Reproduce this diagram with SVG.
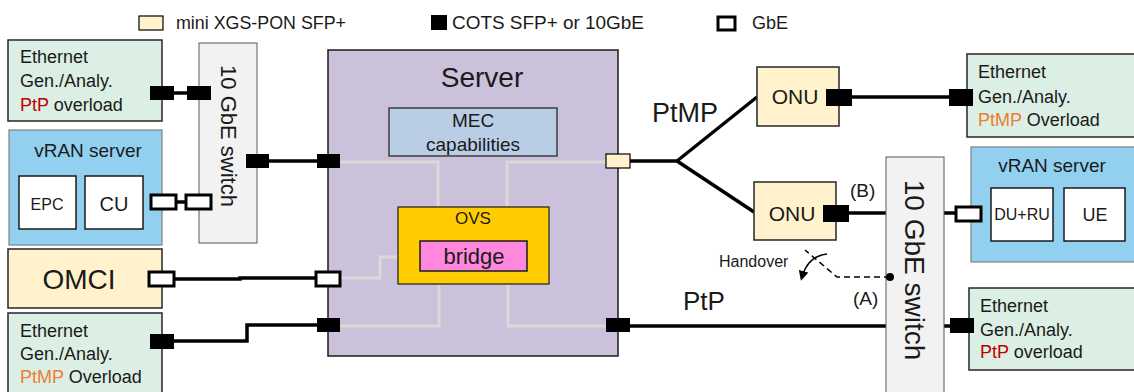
<svg xmlns="http://www.w3.org/2000/svg" width="1134" height="392" viewBox="0 0 1134 392">
<defs>
<style>
text{font-family:"Liberation Sans",Arial,sans-serif;fill:#1a1a1a}
.eth{fill:#dcefe4;stroke:#262626;stroke-width:1.5}
.vran{fill:#92d0f0;stroke:#808080;stroke-width:1.2}
.sw{fill:#f2f2f2;stroke:#595959;stroke-width:1}
.yel{fill:#fff2cc;stroke:#262626;stroke-width:1.5}
.wbox{fill:#ffffff;stroke:#1a1a1a;stroke-width:1.5}
.blk{fill:#000000}
.gbe{fill:#ffffff;stroke:#000000;stroke-width:3}
.pon{fill:#fff2cc;stroke:#000000;stroke-width:1.2}
.ln{fill:none;stroke:#000000;stroke-width:3.5}
.gl{fill:none;stroke:#d9d9d9;stroke-width:3}
.t18{font-size:18px}
.red{fill:#c00000}
.org{fill:#ed7d31}
</style>
<marker id="ah" markerWidth="10" markerHeight="10" refX="6" refY="5" orient="auto" markerUnits="userSpaceOnUse">
<path d="M0,0 L10,5 L0,10 Z" fill="#000"/>
</marker>
</defs>
<rect width="1134" height="392" fill="#ffffff"/>

<g id="legend">
<rect x="139" y="16" width="24" height="14" class="pon"/>
<text x="176" y="29" font-size="18" textLength="170" lengthAdjust="spacingAndGlyphs">mini XGS-PON SFP+</text>
<rect x="431" y="15" width="16" height="15" class="blk"/>
<text x="452" y="29" font-size="18" textLength="192" lengthAdjust="spacingAndGlyphs">COTS SFP+ or 10GbE</text>
<rect x="718" y="17" width="17" height="13" class="gbe" stroke-width="2.5"/>
<text x="752" y="29" font-size="18">GbE</text>
</g>

<g id="connectors">
<line x1="174" y1="93" x2="187" y2="93" class="ln"/>
<line x1="76" y1="203" x2="85" y2="203" class="ln"/>
<line x1="143" y1="202" x2="151" y2="202" class="ln"/>
<line x1="176" y1="202" x2="186" y2="202" class="ln"/>
<line x1="269" y1="161" x2="317" y2="161" class="ln"/>
<polyline points="174,279 240,279 240,278 316,278" class="ln"/>
<polyline points="174,341 247,341 247,325 317,325" class="ln"/>
<line x1="630" y1="161" x2="677" y2="161" class="ln"/>
<line x1="677" y1="161" x2="757" y2="97" class="ln"/>
<line x1="677" y1="161" x2="754" y2="212" class="ln"/>
<line x1="852" y1="97" x2="949" y2="97" class="ln"/>
<line x1="849" y1="213" x2="886" y2="213" class="ln"/>
<line x1="944" y1="213" x2="956" y2="213" class="ln"/>
<line x1="981" y1="213" x2="991" y2="213" class="ln"/>
<line x1="1053" y1="213" x2="1064" y2="213" class="ln"/>
<line x1="630" y1="326" x2="886" y2="326" class="ln"/>
<line x1="944" y1="326" x2="950" y2="326" class="ln"/>
</g>

<g id="eth-ptp-left">
<rect x="8" y="40" width="154" height="81" class="eth"/>
<text x="20" y="63" class="t18">Ethernet</text>
<text x="20" y="87" class="t18">Gen./Analy.</text>
<text x="20" y="111" class="t18"><tspan class="red">PtP</tspan> overload</text>
<rect x="150" y="86" width="24" height="14" class="blk"/>
</g>

<g id="switch-left">
<rect x="199" y="43" width="58" height="200" class="sw"/>
<text transform="translate(221,136) rotate(90)" text-anchor="middle" font-size="22">10 GbE switch</text>
<rect x="187" y="86" width="24" height="14" class="blk"/>
<rect x="246" y="154" width="23" height="14" class="blk"/>
<rect x="186" y="195" width="25" height="14" class="gbe"/>
</g>

<g id="vran-left">
<rect x="9" y="130" width="153" height="115" class="vran"/>
<text x="88" y="157" text-anchor="middle" font-size="19">vRAN server</text>
<rect x="19" y="176" width="57" height="53" class="wbox"/>
<text x="47" y="210" text-anchor="middle" font-size="16">EPC</text>
<rect x="85" y="176" width="58" height="53" class="wbox"/>
<text x="114" y="211" text-anchor="middle" font-size="20">CU</text>
<rect x="151" y="195" width="25" height="14" class="gbe"/>
</g>

<g id="omci">
<rect x="8" y="249" width="154" height="59" class="yel"/>
<text x="79" y="289" text-anchor="middle" font-size="28">OMCI</text>
<rect x="149" y="272" width="25" height="14" class="gbe"/>
</g>

<g id="eth-ptmp-left">
<rect x="8" y="313" width="154" height="90" class="eth"/>
<text x="20" y="337" class="t18">Ethernet</text>
<text x="20" y="360" class="t18">Gen./Analy.</text>
<text x="20" y="383" class="t18"><tspan class="org">PtMP</tspan> Overload</text>
<rect x="150" y="334" width="24" height="15" class="blk"/>
</g>

<g id="server">
<rect x="328" y="50" width="290" height="306" fill="#ccc1da" stroke="#1a1a1a" stroke-width="1.5"/>
<text x="482" y="87" text-anchor="middle" font-size="28">Server</text>
<polyline points="340,162 438,162 438,241" class="gl"/>
<polyline points="606,162 507,162 507,241" class="gl"/>
<polyline points="340,278 380,278 380,257 420,257" class="gl"/>
<polyline points="340,326 439,326 439,271" class="gl"/>
<polyline points="606,326 508,326 508,271" class="gl"/>
<rect x="317" y="154" width="23" height="14" class="blk"/>
<rect x="316" y="272" width="24" height="14" class="gbe"/>
<rect x="317" y="318" width="23" height="14" class="blk"/>
<rect x="606" y="154" width="24" height="14" class="pon"/>
<rect x="606" y="318" width="24" height="14" class="blk"/>
</g>

<g id="mec">
<rect x="389" y="108" width="168" height="48" fill="#b9cde5" stroke="#1a1a1a" stroke-width="1.2"/>
<text x="473" y="127" text-anchor="middle" font-size="19">MEC</text>
<text x="473" y="151" text-anchor="middle" font-size="19">capabilities</text>
</g>

<g id="ovs">
<rect x="398" y="207" width="151" height="77" fill="#ffcc00" stroke="#1a1a1a" stroke-width="1.2"/>
<text x="473" y="224" text-anchor="middle" font-size="17">OVS</text>
</g>

<g id="bridge">
<rect x="420" y="241" width="107" height="30" fill="#ff88dd" stroke="#1a1a1a" stroke-width="1.5"/>
<text x="474" y="264" text-anchor="middle" font-size="22">bridge</text>
</g>

<g id="labels">
<text x="652" y="122" font-size="27">PtMP</text>
<text x="683" y="310" font-size="26">PtP</text>
<text x="850" y="197" font-size="19">(B)</text>
<text x="853" y="305" font-size="19">(A)</text>
</g>

<g id="onu-top">
<rect x="757" y="67" width="82" height="59" class="yel"/>
<text x="795" y="104" text-anchor="middle" font-size="21">ONU</text>
<rect x="826" y="89" width="26" height="17" class="blk"/>
</g>

<g id="onu-bottom">
<rect x="754" y="182" width="82" height="58" class="yel"/>
<text x="792" y="221" text-anchor="middle" font-size="21">ONU</text>
<rect x="823" y="205" width="26" height="17" class="blk"/>
</g>

<g id="eth-ptmp-right">
<rect x="967" y="54" width="170" height="83" class="eth"/>
<text x="978" y="78" class="t18">Ethernet</text>
<text x="978" y="103" class="t18">Gen./Analy.</text>
<text x="978" y="126" class="t18"><tspan class="org">PtMP</tspan> Overload</text>
<rect x="949" y="89" width="24" height="17" class="blk"/>
</g>

<g id="switch-right">
<rect x="886" y="157" width="58" height="240" class="sw"/>
<text transform="translate(905,270) rotate(90)" text-anchor="middle" font-size="28">10 GbE switch</text>
</g>

<g id="vran-right">
<rect x="971" y="147" width="170" height="115" class="vran"/>
<text x="1052" y="172" text-anchor="middle" font-size="19">vRAN server</text>
<rect x="991" y="188" width="62" height="53" class="wbox"/>
<text x="1022" y="220" text-anchor="middle" font-size="16">DU+RU</text>
<rect x="1064" y="188" width="61" height="53" class="wbox"/>
<text x="1095" y="221" text-anchor="middle" font-size="18">UE</text>
<rect x="956" y="207" width="25" height="14" class="gbe"/>
</g>

<g id="eth-ptp-right">
<rect x="969" y="288" width="170" height="82" class="eth"/>
<text x="980" y="312" class="t18">Ethernet</text>
<text x="980" y="336" class="t18">Gen./Analy.</text>
<text x="980" y="358" class="t18"><tspan class="red">PtP</tspan> overload</text>
<rect x="950" y="318" width="24" height="15" class="blk"/>
</g>

<g id="handover">
<circle cx="890" cy="277" r="4" fill="#000"/>
<polyline points="890,277 837,277 805,250" fill="none" stroke="#000" stroke-width="1.5" stroke-dasharray="6,4"/>
<path d="M827,254 Q808,256 802,277" fill="none" stroke="#000" stroke-width="1.5" marker-end="url(#ah)"/>
<text x="719" y="267" font-size="16">Handover</text>
</g>
</svg>
